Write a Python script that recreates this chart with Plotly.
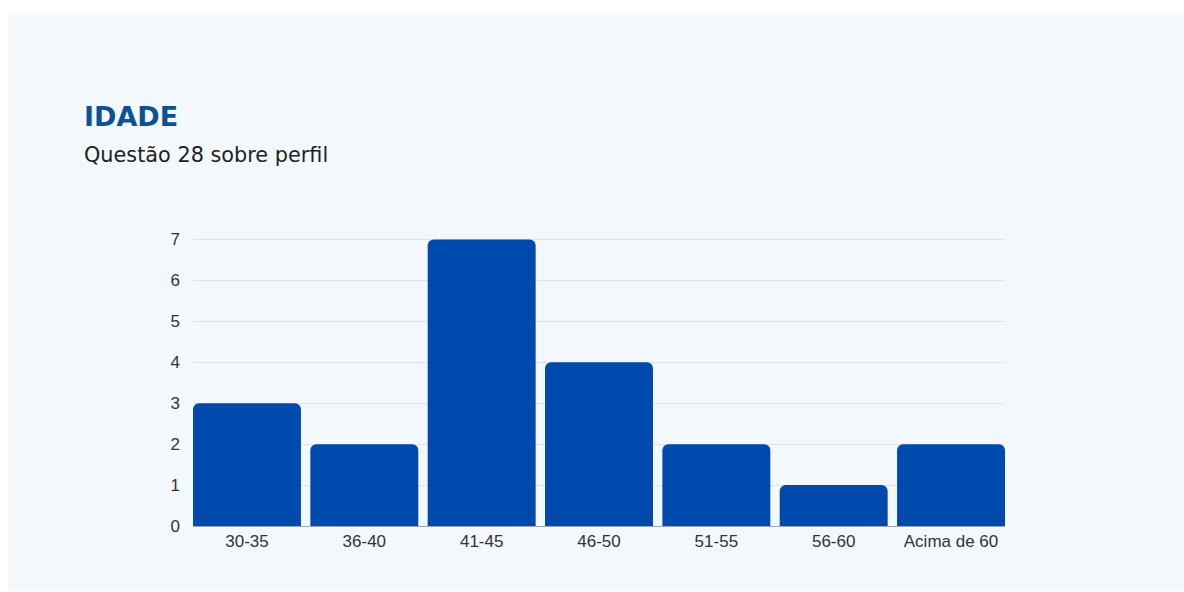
import plotly.graph_objects as go

categories = ["30-35", "36-40", "41-45", "46-50", "51-55", "56-60", "Acima de 60"]
values = [3, 2, 7, 4, 2, 1, 2]

W, H = 1184, 592
L, R, T, B = 193, 1005, 236, 526  # plot area pixel bounds
pw, ph = R - L, B - T
BARGAP = 0.08
YTOP = 7 + (239.5 - T) / ((B - 239.5) / 7)

def px(x):
    return (x - L) / pw

def py(y):
    return (B - y) / ph

fig = go.Figure(go.Bar(
    x=categories, y=values,
    marker=dict(color="#004AAD", line=dict(width=0)),
    hoverinfo="x+y",
))

fig.update_layout(
    width=W, height=H,
    margin=dict(l=L, r=W - R, t=T, b=H - B, pad=0),
    paper_bgcolor="white",
    plot_bgcolor="rgba(0,0,0,0)",
    bargap=BARGAP,
    barcornerradius=6,
    showlegend=False,
    font=dict(family="Liberation Sans, Arial, sans-serif", size=17, color="#333333"),
    xaxis=dict(
        range=[-0.5 + BARGAP / 2, len(categories) - 0.5 - BARGAP / 2],
        showgrid=False, showline=True, linecolor="#9aa3b2", linewidth=1,
        ticks="", tickfont=dict(size=17, color="#333333"), zeroline=False,
    ),
    yaxis=dict(
        range=[0, YTOP], tickvals=list(range(0, 8)), showgrid=True, gridcolor="#dde3ea", gridwidth=1,
        zeroline=False, showline=False, ticks="", ticklabelstandoff=12,
        tickfont=dict(size=17, color="#333333"),
    ),
    shapes=[dict(
        type="rect", xref="paper", yref="paper",
        x0=px(8), x1=px(1184), y0=py(591), y1=py(13),
        fillcolor="#F3F8FD", line=dict(width=0), layer="below",
    )],
    annotations=[
        dict(text="<b>IDADE</b>", xref="paper", yref="paper",
             x=px(82), y=py(116), xanchor="left", yanchor="middle",
             showarrow=False, font=dict(family="DejaVu Sans, sans-serif", size=27, color="#0B5394")),
        dict(text="Questão 28 sobre perfil", xref="paper", yref="paper",
             x=px(82), y=py(155), xanchor="left", yanchor="middle",
             showarrow=False, font=dict(family="DejaVu Sans, sans-serif", size=20.8, color="#222222")),
    ],
)

fig.write_html("out.html")
